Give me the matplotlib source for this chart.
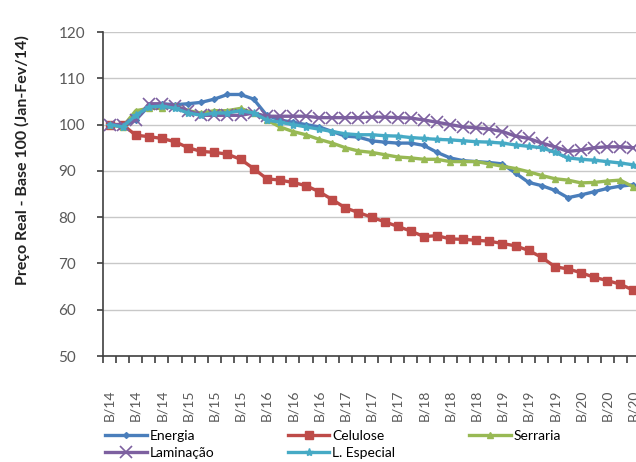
import numpy as np
import matplotlib.pyplot as plt

plt.rcParams['font.family'] = ['Lato', 'DejaVu Sans']

# bimonthly index, base Jan-Fev/14 = 100 (chart is cropped at the right)
years = ["14", "15", "16", "17", "18", "19", "20"]
n_cat = 41
tick_labels = ["B/" + y for y in years for _ in range(3)]  # one label every 2nd category

energia = [100, 99.5, 101, 104, 104.5, 104.3, 104.5, 104.8, 105.5, 106.5, 106.5, 105.5,
           102, 101, 100.5, 100, 99.5, 98.5, 97.5, 97.3, 96.5, 96.2, 96, 96, 95.5, 94,
           92.8, 92.2, 92, 91.8, 91.5, 89.5, 87.5, 86.8, 85.8, 84.2, 84.8, 85.5, 86.2,
           86.7, 87]
celulose = [100, 100, 97.7, 97.4, 97, 96.3, 95, 94.2, 94, 93.6, 92.5, 90.5, 88.3, 88,
            87.5, 86.8, 85.5, 83.8, 82, 81, 80, 79, 78, 77, 75.8, 76, 75.3, 75.2, 75,
            74.8, 74.3, 73.8, 72.8, 71.3, 69.3, 68.8, 68, 67, 66.3, 65.5, 64.2]
serraria = [100, 99.5, 103, 103.5, 103.5, 104, 103, 102.5, 103, 103, 103.5, 102.5, 101,
            99.5, 98.5, 97.8, 96.8, 96, 95, 94.3, 94, 93.5, 93, 92.8, 92.5, 92.5, 92, 92,
            92, 91.5, 91, 90.5, 89.8, 89, 88.3, 88, 87.4, 87.5, 87.8, 88, 86.5]
laminacao = [100, 100, 101, 104.5, 104.5, 104, 103, 102, 102, 102, 102, 102.5, 101.8,
             101.8, 101.8, 101.8, 101.5, 101.5, 101.5, 101.5, 101.6, 101.6, 101.5, 101.4,
             101, 100.5, 100, 99.5, 99.3, 99, 98.5, 97.5, 97, 96, 95.2, 94.2, 94.5, 95,
             95.2, 95.2, 95]
l_especial = [100, 99.5, 102, 103.8, 104, 103.5, 102.5, 102, 102.5, 102.5, 103, 102.5,
              101, 100.5, 100, 99.5, 99, 98.5, 98, 97.8, 97.8, 97.6, 97.5, 97.2, 97, 96.8,
              96.7, 96.5, 96.3, 96.2, 96, 95.6, 95.3, 95, 94, 92.8, 92.5, 92.3, 92, 91.7,
              91.3]

fig = plt.figure(figsize=(6.36, 4.62), dpi=100)
ax = fig.add_axes([103 / 636, 1 - 356 / 462, 537 / 636, 324 / 462])

x = np.arange(n_cat)
h_en, = ax.plot(x, energia, color='#4a7ebb', lw=2.4, marker='D', ms=3, label='Energia')
h_ce, = ax.plot(x, celulose, color='#be4b48', lw=2.4, marker='s', ms=6, label='Celulose')
h_se, = ax.plot(x, serraria, color='#98b954', lw=2.4, marker='^', ms=5, label='Serraria')
h_la, = ax.plot(x, laminacao, color='#7d60a0', lw=2.4, marker='x', ms=8, mew=1.2, label='Laminação')
h_le, = ax.plot(x, l_especial, color='#46aac5', lw=2.4, marker='*', ms=6, label='L. Especial')

ax.set_xlim(-0.5, n_cat - 0.5)
ax.set_ylim(50, 120)
ax.set_yticks(np.arange(50, 121, 10))
ax.grid(axis='y', color='#c8c8c8', lw=1)
ax.set_axisbelow(True)

# ticks between categories, labels on every second category
ax.set_xticks(np.arange(n_cat + 1) - 0.5)
ax.set_xticklabels([])
ax.set_xticks(np.arange(0, n_cat, 2), minor=True)
ax.set_xticklabels(tick_labels, minor=True, rotation=90, va='top', ha='center',
                   fontsize=10, color='#595959')
ax.tick_params(axis='x', which='major', length=5, width=1.2, color='#404040', direction='out')
ax.tick_params(axis='x', which='minor', length=0, pad=24)

ax.tick_params(axis='y', length=4, width=1.2, color='#404040', pad=28,
               labelsize=11, labelcolor='#595959')
for lab in ax.get_yticklabels():
    lab.set_horizontalalignment('left')

for s in ['top', 'right']:
    ax.spines[s].set_visible(False)
for s in ['left', 'bottom']:
    ax.spines[s].set_color('#404040')
    ax.spines[s].set_linewidth(1.2)

fig.text(22 / 636, 1 - 160 / 462, 'Preço Real - Base 100 (Jan-Fev/14)', rotation=90,
         ha='center', va='center', fontsize=11.5, fontweight='bold', color='#222222')

# row-wise legend order: Energia, Celulose, Serraria / Laminação, L. Especial
fig.legend(handles=[h_en, h_la, h_ce, h_le, h_se],
           loc='upper left', bbox_to_anchor=(105 / 636, 1 - 430 / 462), ncol=3,
           frameon=False, fontsize=10, handlelength=3.0, columnspacing=5.3,
           handletextpad=0.2, borderaxespad=0, borderpad=0, labelspacing=0.35)

fig.savefig('out.png', dpi=100)
